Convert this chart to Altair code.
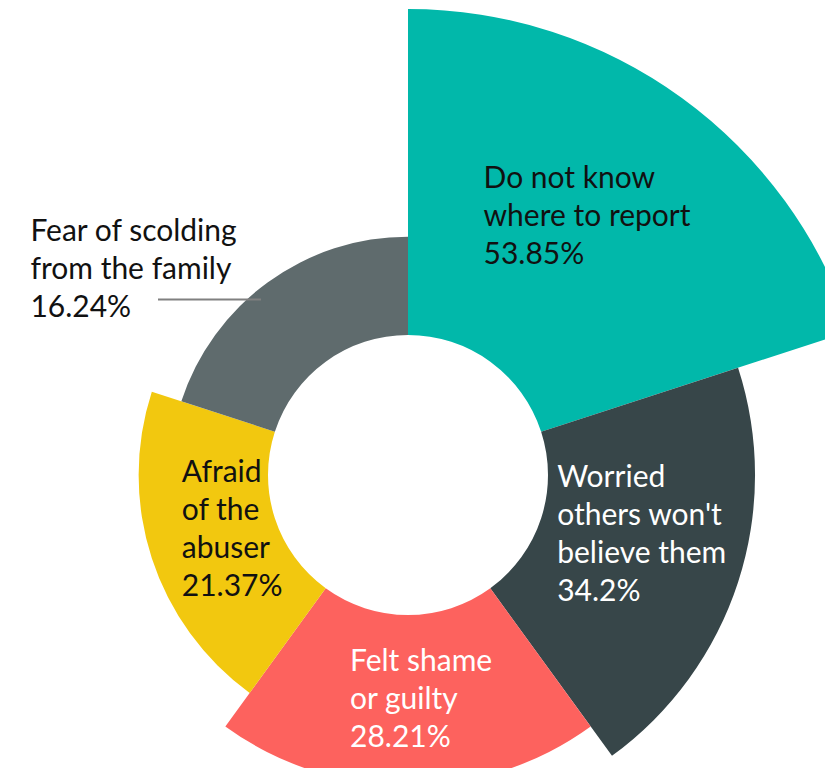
import altair as alt
import pandas as pd

# ---- data ----
categories = [
    "Do not know where to report",
    "Worried others won't believe them",
    "Felt shame or guilty",
    "Afraid of the abuser",
    "Fear of scolding from the family",
]
label_texts = [
    "Do not know\nwhere to report\n53.85%",
    "Worried\nothers won't\nbelieve them\n34.2%",
    "Felt shame\nor guilty\n28.21%",
    "Afraid\nof the\nabuser\n21.37%",
    "Fear of scolding\nfrom the family\n16.24%",
]
percentages = [53.85, 34.2, 28.21, 21.37, 16.24]
order_index = [0, 1, 2, 3, 4]

df = pd.DataFrame({
    "cat": categories,
    "label": label_texts,
    "pct": percentages,
    "idx": order_index,
})

# ---- styling / layout ----
colors = ["#01B8AA", "#374649", "#FD625E", "#F2C80F", "#5F6B6D"]
text_colors = ["#111111", "#FFFFFF", "#FFFFFF", "#111111", "#111111"]
# label offsets relative to the slice's mid-angle anchor (layout only)
label_offsets = [(-42, -125), (-41, -50), (-58, -4), (-36, -55), (-260, -72)]
CX, CY = 400, 467
INNER = 140
FONT = "Lato"

base = alt.Chart(df).transform_calculate(
    t0="datum.idx", t1="datum.idx + 1", mid="datum.idx + 0.5"
)

theta_scale = alt.Scale(domain=[0, 5])
radius_scale = alt.Scale(type="linear", domain=[0, 53.85], range=[INNER, 466], zero=True)

arcs = base.mark_arc(innerRadius=INNER).encode(
    theta=alt.Theta("t0:Q", scale=theta_scale),
    theta2="t1:Q",
    radius=alt.Radius("pct:Q", scale=radius_scale),
    color=alt.Color("cat:N", scale=alt.Scale(domain=categories, range=colors), legend=None),
    x=alt.value(CX),
    y=alt.value(CY),
)

layers = [arcs]
for i, cat in enumerate(categories):
    dx, dy = label_offsets[i]
    t = (
        base.transform_filter(alt.datum.cat == cat)
        .mark_text(
            align="left",
            baseline="alphabetic",
            font=FONT,
            fontSize=30,
            lineHeight=38,
            lineBreak="\n",
            radius=200,
            dx=dx,
            dy=dy,
            color=text_colors[i],
        )
        .encode(
            theta=alt.Theta("mid:Q", scale=theta_scale),
            text=alt.Text("label:N"),
            x=alt.value(CX),
            y=alt.value(CY),
        )
    )
    layers.append(t)

leader = base.transform_filter(alt.datum.idx == 4).mark_rule(
    color="#808080", strokeWidth=2
).encode(
    x=alt.value(150), x2=alt.value(253), y=alt.value(291.5)
)
layers.append(leader)

chart = (
    alt.layer(*layers)
    .properties(width=817, height=760, padding=0, autosize=alt.AutoSizeParams(type="none"))
    .configure_view(stroke=None)
)

chart.save("out.html", embed_options={"renderer": "svg", "actions": False})
